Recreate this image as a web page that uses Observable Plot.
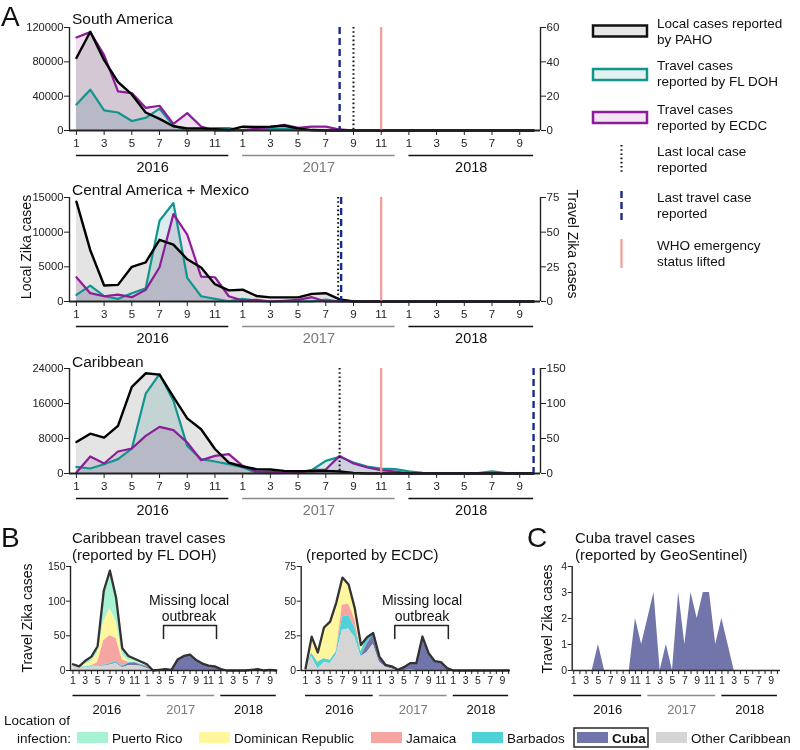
<!DOCTYPE html>
<html><head><meta charset="utf-8">
<script src="https://cdn.jsdelivr.net/npm/d3@7"></script>
<script src="https://cdn.jsdelivr.net/npm/@observablehq/plot@0.6"></script>
<style>
body{margin:0;background:#fff;}
#root{position:relative;width:800px;height:750px;overflow:hidden;background:#fff;}
#root > div{position:absolute;}
</style></head><body><div id="root"></div>
<script>
const FONT = "'Liberation Sans', Arial, Helvetica, sans-serif";
// ---------- months (Jan 2016 .. Oct 2018) ----------
const monthLabels = [1,2,3,4,5,6,7,8,9,10,11,12, 1,2,3,4,5,6,7,8,9,10,11,12, 1,2,3,4,5,6,7,8,9,10];
const years = [
  {label:"2016", start:0, end:11, line:"#111", txt:"#111"},
  {label:"2017", start:12, end:23, line:"#8c8c8c", txt:"#7a7a7a"},
  {label:"2018", start:24, end:33, line:"#111", txt:"#111"}
];
// ---------- Panel A: South America ----------
const localSA = [84500,115000,82000,56500,42000,21000,13500,5000,2500,2500,1500,500,4500,4000,4500,5500,2500,500,0,0,0,0,0,0,0,0,0,0,0,0,0,0,0,0];
const flSA    = [15.2,23.8,11.7,10.5,5.5,7.4,12.7,2.9,0,0.8,1.4,1.4,0,0.6,0.8,0.8,0.8,0,0,0,0,0,0,0,0,0,0,0,0,0,0,0,0,0];
const ecSA    = [54.2,57.3,43.9,22.8,21.8,13.2,14.4,3.9,10.1,2.3,0,0,0.2,1,2,3.3,1.5,2.3,2.3,0.6,0,0,0,0,0,0,0,0,0,0,0,0,0,0];
// ---------- Panel A: Central America + Mexico ----------
const localCA = [14400,7400,2300,2400,5000,5650,8900,8200,6100,4900,2500,1600,1700,800,600,600,600,1100,1200,300,0,0,0,0,0,0,0,0,0,0,0,0,0,0];
const flCA    = [4.8,11.5,3.8,1.9,6,9.6,58.2,71,17,3.8,1.9,0.2,1.9,0.5,0,0,0,0,1.4,0,0,0,0,0,0,0,0,0,0,0,0,0,0,0];
const ecCA    = [17.5,6,3.8,5,3.1,8.4,24.7,63,48.2,18,17.5,3.8,0.7,1.2,0,0.5,1.2,3.1,0,0,0,0,0,0,0,0,0,0,0,0,0,0,0,0];
// ---------- Panel A: Caribbean ----------
const localCB = [7200,9100,8200,10900,19800,22900,22600,17500,12600,10100,5600,2500,1600,1000,900,600,500,500,600,450,100,0,0,0,0,0,0,0,0,0,0,0,0,0];
const flCB    = [9.5,7.1,13.3,20.5,35.7,114,142,104,39.5,20.5,17.1,13.3,9,1,0.5,1,1.4,5,18,23.8,15.7,10,7.1,6.2,3,1,0.5,0.5,0.5,0.5,3,0.5,0.5,0.5];
const ecCB    = [1.4,24.3,14.3,31.4,35.7,53.8,66.7,61.9,44.3,19,25.2,27.6,11,2.9,2.4,1.4,1.4,4.8,5.7,25.2,14.3,8.6,4.8,2.9,0,0,0,0,0,0,0,0,0,0];
// event months (index into monthLabels)
const eventsSA = [{at:19, kind:"travel"}, {at:20, kind:"local"}, {at:22, kind:"who"}];
const eventsCA = [{at:19, kind:"local", dx:-1.5}, {at:19, kind:"travel", dx:1.5}, {at:22, kind:"who"}];
const eventsCB = [{at:19, kind:"local"}, {at:22, kind:"who"}, {at:33, kind:"travel"}];
// ---------- Panel B: FL DOH by location ----------
const otherFL = [6,5,4,5,5,6,8,10,4,7,7,6,3,0,0,0,0,0,0,0,0,0,0,0,0,0,0,0,0,0,0,0,0,0];
const cubaFL  = [1,0,0,0,0,1,1,1,1,3,4,2,2,0,1,2,1,16,21,23,15,10,7,6,2,0,0,0,0,1,2,0,1,0];
const barbFL  = [0,0,1,1,1,1,1,2,2,1,1,1,2,0,0,0,0,0,0,0,0,0,0,0,0,0,0,0,0,0,0,0,0,0];
const jamFL   = [0,0,0,1,5,35,40,33,8,1,0,0,0,0,0,0,0,0,0,0,0,0,0,0,0,0,0,0,0,0,0,0,0,0];
const drFL    = [1,1,4,6,14,27,39,24,7,2,1,1,1,0,0,0,0,0,0,0,0,0,0,0,0,0,0,0,0,0,0,0,0,0];
const prFL    = [1,0,5,7,10,45,55,35,10,7,4,3,1,0,0,0,0,0,0,0,0,0,0,0,0,0,0,0,0,0,0,0,0,0];
// ---------- Panel B: ECDC by location ----------
const otherEC = [1.5,10,1,5.5,5,11,29,30,24,10,13,19,6,2.4,1,0,0,0.3,0,0,0,0,0,0,0,0,0,0,0,0,0,0,0,0];
const cubaEC  = [0,0,0,0,0,0,0,0,0,0,6,7,3,1.6,2,0.5,2.4,5,5.3,24.5,12.5,6.7,6,1.7,0,0,0,0,0,0,0,0,0,0];
const barbEC  = [0,2.4,5,3,2.4,2,9.5,9.7,7,3.6,5,1,0.6,0,0,0,0,0,0,0,0,0,0,0,0,0,0,0,0,0,0,0,0,0];
const jamEC   = [0,0,0,0,0,1,8.5,8,6,0,0,0,0,0,0,0,0,0,0,0,0,0,0,0,0,0,0,0,0,0,0,0,0,0];
const drEC    = [0,12,7,22.5,27.8,35,20,14.3,8,4.8,0,0,0.4,0,0,0,0,0,0,0,0,0,0,0,0,0,0,0,0,0,0,0,0,0];
const prEC    = [0,0,0,0,0,0,0,0,0,0,0,0,0,0,0,0,0,0,0,0,0,0,0,0,0,0,0,0,0,0,0,0,0,0];
// ---------- Panel C: GeoSentinel Cuba ----------
const cubaGS  = [0,0,0,0,1,0,0,0,0,0,2,1,2,3,0,1,0,3,1,3,2,3,3,1,2,1,0,0,0,0,0,0,0,0];
// locations
const locNames  = ["Puerto Rico","Dominican Republic","Jamaica","Barbados","Cuba","Other Caribbean"];
const locColors = ["#a6f2d2","#fff69e","#f6a5a2","#4fd1d6","#7175a9","#d5d5d5"];
const stackOrder = ["Other Caribbean","Cuba","Barbados","Jamaica","Dominican Republic","Puerto Rico"];

const TEAL = "#12958f", PURPLE = "#8d1c98", NAVY = "#1b2a8e", WHO = "#f59b95";
const EVT = {
  local:  {stroke:"#111", strokeWidth:2, strokeDasharray:"1.6,2.6"},
  travel: {stroke:NAVY, strokeWidth:2.4, strokeDasharray:"7,4"},
  who:    {stroke:WHO, strokeWidth:2.2}
};
const N = monthLabels.length;
const idx = d3.range(N);
const oddIdx = idx.filter(i => monthLabels[i] % 2 === 1);
const root = document.getElementById("root");
function place(node, left, top){ const d=document.createElement("div"); d.style.left=left+"px"; d.style.top=top+"px"; d.appendChild(node); root.appendChild(d); }
const baseStyle = {fontFamily: FONT, color:"#222", background:"transparent", overflow:"visible"};

function panelA(c){
  const mt=10, mb=52;
  const rows = idx.map(i => ({i, local:c.local[i], fl:c.fl[i]*c.factor, ec:c.ec[i]*c.factor}));
  return Plot.plot({
    width:580, height:mt+c.ph+mb, marginTop:mt, marginBottom:mb, marginLeft:69, marginRight:40,
    x:{domain:[-0.5,33.5], axis:null}, y:{domain:[0,c.yMax], axis:null},
    style:{...baseStyle, fontSize:"11.5px"},
    marks:[
      Plot.areaY(rows,{x:"i", y:"local", fill:"#e4e4e4", mixBlendMode:"multiply"}),
      Plot.areaY(rows,{x:"i", y:"fl", fill:"#dbeeed", mixBlendMode:"multiply"}),
      Plot.areaY(rows,{x:"i", y:"ec", fill:"#efe0ef", mixBlendMode:"multiply"}),
      Plot.lineY(rows,{x:"i", y:"fl", stroke:TEAL, strokeWidth:2.2}),
      Plot.lineY(rows,{x:"i", y:"ec", stroke:PURPLE, strokeWidth:2.2}),
      Plot.lineY(rows,{x:"i", y:"local", stroke:"#000", strokeWidth:2.4}),
      ...c.events.map(e => Plot.ruleX([e.at], {dx:e.dx||0, ...EVT[e.kind]})),
      Plot.ruleX([-0.5,33.5],{stroke:"#222", strokeWidth:1.4}),
      Plot.ruleY([0],{stroke:"#222", strokeWidth:1.8}),
      Plot.axisY({anchor:"left", ticks:c.yTicks, tickFormat:d=>String(d), tickSize:5, tickPadding:1, fontSize:11.2, label:null}),
      Plot.axisY({anchor:"right", ticks:c.rTicks.map(t=>t*c.factor), tickFormat:d=>String(Math.round(d/c.factor)), tickSize:5, tickPadding:1, fontSize:11.5, label:null}),
      Plot.axisX({ticks:oddIdx, tickFormat:i=>String(monthLabels[i]), tickSize:5, tickPadding:3, fontSize:11.5, label:null}),
      Plot.ruleY(years,{x1:"start", x2:"end", y:()=>0, dy:25, stroke:"line", strokeWidth:1.6}),
      Plot.text(years,{x:d=>(d.start+d.end)/2, y:()=>0, dy:41.5, text:"label", fill:"txt", fontSize:14.5, lineAnchor:"bottom"})
    ]
  });
}
place(panelA({local:localSA, fl:flSA, ec:ecSA, factor:2000, yMax:120000, ph:103, yTicks:[0,40000,80000,120000], rTicks:[0,20,40,60], events:eventsSA}), 0, 17);
place(panelA({local:localCA, fl:flCA, ec:ecCA, factor:200, yMax:15000, ph:104, yTicks:[0,5000,10000,15000], rTicks:[0,25,50,75], events:eventsCA}), 0, 187);
place(panelA({local:localCB, fl:flCB, ec:ecCB, factor:160, yMax:24000, ph:105, yTicks:[0,8000,16000,24000], rTicks:[0,50,100,150], events:eventsCB}), 0, 358);

function panelB(c){
  const mt=10, ph=104, mb=52;
  const long = [];
  c.layers.forEach(L => L.values.forEach((v,i) => long.push({i, v, loc:L.name})));
  const total = idx.map(i => ({i, v:d3.sum(c.layers, L => L.values[i])}));
  const marks = [
    Plot.areaY(long, Plot.stackY({x:"i", y:"v", fill:"loc", order:stackOrder}))
  ];
  if (!c.noLine) marks.push(Plot.lineY(total, {x:"i", y:"v", stroke:"#333", strokeWidth:2.3, strokeLinejoin:"round"}));
  if (c.bracket){
    const b = c.bracket;
    const pts = [{x:b.from,y:b.tick},{x:b.from,y:b.top},{x:b.to,y:b.top},{x:b.to,y:b.tick}];
    marks.push(Plot.line(pts,{x:"x", y:"y", stroke:"#222", strokeWidth:1.5}));
  }
  return Plot.plot({
    width:c.width, height:mt+ph+mb, marginTop:mt, marginBottom:mb, marginLeft:c.ml, marginRight:c.mr,
    x:{domain:c.xDomain, axis:null}, y:{domain:[0,c.yMax], axis:null},
    color:{domain:locNames, range:locColors},
    style:{...baseStyle, fontSize:"10.5px"},
    marks:[
      ...marks,
      Plot.ruleX([c.xDomain[0]],{stroke:"#222", strokeWidth:1.4}),
      Plot.ruleY([0],{stroke:"#222", strokeWidth:1.6}),
      Plot.axisY({anchor:"left", ticks:c.yTicks, tickFormat:d=>String(d), tickSize:4, tickPadding:1, fontSize:10.5, label:null}),
      Plot.axisX({ticks:idx, tickFormat:i=>monthLabels[i]%2===1?String(monthLabels[i]):"", tickSize:4, tickPadding:2, fontSize:10.5, label:null}),
      Plot.ruleY(years,{x1:"start", x2:"end", y:()=>0, dy:25, stroke:"line", strokeWidth:1.5}),
      Plot.text(years,{x:d=>(d.start+d.end)/2, y:()=>0, dy:43, text:"label", fill:"txt", fontSize:13, lineAnchor:"bottom"})
    ]
  });
}
function layersOf(pr, dr, jam, barb, cuba, other){
  return [{name:"Puerto Rico", values:pr},{name:"Dominican Republic", values:dr},{name:"Jamaica", values:jam},{name:"Barbados", values:barb},{name:"Cuba", values:cuba},{name:"Other Caribbean", values:other}];
}
place(panelB({layers:layersOf(prFL,drFL,jamFL,barbFL,cubaFL,otherFL), yMax:150, yTicks:[0,50,100,150], width:280, ml:70, mr:3, xDomain:[-0.4,33.2], bracket:{from:14.7,to:23.3,top:65,tick:46}}), 0, 556);
place(panelB({layers:layersOf(prEC,drEC,jamEC,barbEC,cubaEC,otherEC), yMax:75, yTicks:[0,25,50,75], width:253, ml:40.7, mr:3, xDomain:[-0.7,33.3], bracket:{from:14.5,to:23.2,top:32.5,tick:23}}), 260, 556);
place(panelB({layers:[{name:"Cuba", values:cubaGS}], yMax:4, yTicks:[0,1,2,3,4], width:255, ml:41.7, mr:5, xDomain:[-0.25,33.5], noLine:true}), 530, 556);

// ---------- overlay text / legends ----------
const svg = d3.select(root).append("svg").attr("width",800).attr("height",750)
  .style("position","absolute").style("left","0px").style("top","0px").attr("font-family",FONT);
function T(x,y,s,o={}){
  const t = svg.append("text").attr("x",x).attr("y",y).attr("font-size",o.size||14)
    .attr("text-anchor",o.anchor||"start").attr("fill",o.fill||"#111").text(s);
  if (o.weight) t.attr("font-weight",o.weight);
  if (o.rot) t.attr("transform",`rotate(${o.rot},${x},${y})`);
}
T(1,26,"A",{size:28});
T(72,24,"South America",{size:15.5});
T(72,195,"Central America + Mexico",{size:15.5});
T(72,367,"Caribbean",{size:15.5});
T(30.5,247,"Local Zika cases",{size:14,rot:-90,anchor:"middle"});
T(568,244,"Travel Zika cases",{size:14,rot:90,anchor:"middle"});
// legend A
const legA = [
  {kind:"box", stroke:"#111", fill:"#e6e6e6", y:25.5, lines:["Local cases reported","by PAHO"], ty:27.5},
  {kind:"box", stroke:TEAL, fill:"#e2f2f1", y:69, lines:["Travel cases","reported by FL DOH"], ty:70},
  {kind:"box", stroke:PURPLE, fill:"#f3e5f3", y:112, lines:["Travel cases","reported by ECDC"], ty:113.5},
  {kind:"local", y1:145, y2:172, lines:["Last local case","reported"], ty:156},
  {kind:"travel", y1:191, y2:220, lines:["Last travel case","reported"], ty:202},
  {kind:"who", y1:239, y2:268, lines:["WHO emergency","status lifted"], ty:249.5}
];
legA.forEach(L => {
  if (L.kind==="box") svg.append("rect").attr("x",593).attr("y",L.y).attr("width",54).attr("height",11).attr("fill",L.fill).attr("stroke",L.stroke).attr("stroke-width",2.5);
  else { const e=EVT[L.kind]; const ln=svg.append("line").attr("x1",621.5).attr("x2",621.5).attr("y1",L.y1).attr("y2",L.y2).attr("stroke",e.stroke).attr("stroke-width",e.strokeWidth); if(e.strokeDasharray) ln.attr("stroke-dasharray",e.strokeDasharray); }
  L.lines.forEach((s,k)=>T(657,L.ty+k*16.3,s,{size:13.5}));
});
// panel B / C headers
T(1,547,"B",{size:28});
T(72,543,"Caribbean travel cases",{size:15});
T(72,560,"(reported by FL DOH)",{size:15});
T(306,560,"(reported by ECDC)",{size:15});
T(189,605,"Missing local",{size:14,anchor:"middle"});
T(189,620.5,"outbreak",{size:14,anchor:"middle"});
T(422,605,"Missing local",{size:14,anchor:"middle"});
T(422,620.5,"outbreak",{size:14,anchor:"middle"});
T(32,618,"Travel Zika cases",{size:14,rot:-90,anchor:"middle"});
T(527,547,"C",{size:28});
T(575,543,"Cuba travel cases",{size:15});
T(575,560,"(reported by GeoSentinel)",{size:15});
T(552,619,"Travel Zika cases",{size:14,rot:-90,anchor:"middle"});
// bottom legend
T(4,725,"Location of",{size:13.5});
T(71,743,"infection:",{size:13.5,anchor:"end"});
const legB = [
  {name:"Puerto Rico", x:77}, {name:"Dominican Republic", x:199}, {name:"Jamaica", x:371},
  {name:"Barbados", x:472}, {name:"Cuba", x:577, bold:true}, {name:"Other Caribbean", x:656}
];
svg.append("rect").attr("x",574).attr("y",728).attr("width",74).attr("height",19).attr("fill","none").attr("stroke","#333").attr("stroke-width",1.6);
legB.forEach(L => {
  const col = locColors[locNames.indexOf(L.name)];
  svg.append("rect").attr("x",L.x).attr("y",732).attr("width",31).attr("height",11).attr("fill",col);
  T(L.x+35,743,L.name,{size:13.5,weight:L.bold?"bold":null});
});
</script></body></html>
